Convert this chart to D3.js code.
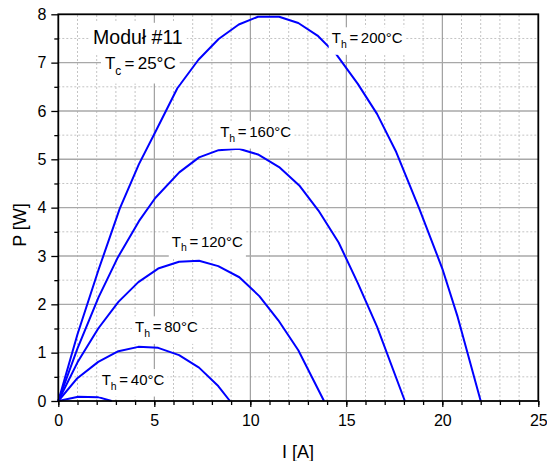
<!DOCTYPE html>
<html>
<head>
<meta charset="utf-8">
<script src="https://cdn.jsdelivr.net/npm/d3@7"></script>
<style>
  body { margin: 0; background: #fff; }
  svg text { font-family: "Liberation Sans", Arial, Helvetica, sans-serif; fill: #000; }
</style>
</head>
<body>
<svg id="chart" width="547" height="461"></svg>
<script>
// measured points, I [A] vs P [W]
var current200 = [0, 1.0, 2.1, 3.2, 4.2, 5.1, 6.2, 7.3, 8.35, 9.4, 10.4, 11.5, 12.5, 13.5, 14.5, 15.6, 16.6, 17.6, 18.8, 20.0, 20.8, 22.0];
var power200   = [0, 1.38, 2.72, 3.98, 4.90, 5.60, 6.47, 7.06, 7.49, 7.79, 7.95, 7.95, 7.82, 7.56, 7.16, 6.56, 5.94, 5.15, 3.98, 2.74, 1.74, 0];
var current160 = [0, 1.0, 2.1, 3.1, 4.2, 5.05, 6.3, 7.33, 8.35, 9.4, 10.4, 11.5, 12.55, 13.55, 14.6, 15.6, 16.6, 18.05];
var power160   = [0, 1.09, 2.15, 2.97, 3.72, 4.20, 4.73, 5.04, 5.19, 5.22, 5.10, 4.84, 4.46, 3.94, 3.28, 2.44, 1.54, 0];
var current120 = [0, 1.0, 2.08, 3.13, 4.17, 5.2, 6.29, 7.33, 8.33, 9.43, 10.47, 11.46, 12.5, 13.84];
var power120   = [0, 0.80, 1.50, 2.05, 2.46, 2.74, 2.88, 2.90, 2.79, 2.56, 2.17, 1.67, 1.05, 0];
var current80  = [0, 0.96, 2.08, 3.13, 4.17, 5.2, 6.29, 7.33, 8.33, 8.94];
var power80    = [0, 0.46, 0.81, 1.03, 1.12, 1.10, 0.95, 0.69, 0.31, 0];
var current40  = [0, 1.04, 2.08, 2.78];
var power40    = [0, 0.09, 0.08, 0];

var hotTemps = ["200", "160", "120", "80", "40"];
var xTicks = [0, 5, 10, 15, 20, 25];
var yTicks = [0, 1, 2, 3, 4, 5, 6, 7, 8];

var svg = d3.select('#chart');
var marginLeft = 58.3, marginTop = 14.3, plotW = 480, plotH = 386.7;

var x = d3.scaleLinear().domain([0, 25]).range([marginLeft, marginLeft + plotW]);
var y = d3.scaleLinear().domain([0, 8]).range([marginTop + plotH, marginTop]);

// GRID
var grid = svg.append("g");
grid.selectAll(".vminor").data(d3.range(1, 25).filter(function(v){ return v % 5 != 0; }))
  .enter().append("line")
  .attr("x1", function(d){ return x(d); }).attr("x2", function(d){ return x(d); })
  .attr("y1", y(0)).attr("y2", y(8))
  .attr("stroke", "#c4c4c4").attr("stroke-width", 1).attr("stroke-dasharray", "2,2");
grid.selectAll(".hminor").data(d3.range(0.5, 8, 1))
  .enter().append("line")
  .attr("y1", function(d){ return y(d); }).attr("y2", function(d){ return y(d); })
  .attr("x1", x(0)).attr("x2", x(25))
  .attr("stroke", "#c4c4c4").attr("stroke-width", 1).attr("stroke-dasharray", "2,2");
grid.selectAll(".vmajor").data([5, 10, 15, 20])
  .enter().append("line")
  .attr("x1", function(d){ return x(d); }).attr("x2", function(d){ return x(d); })
  .attr("y1", y(0)).attr("y2", y(8))
  .attr("stroke", "#8c8c8c").attr("stroke-width", 1);
grid.selectAll(".hmajor").data([1, 2, 3, 4, 5, 6, 7])
  .enter().append("line")
  .attr("y1", function(d){ return y(d); }).attr("y2", function(d){ return y(d); })
  .attr("x1", x(0)).attr("x2", x(25))
  .attr("stroke", "#a8a8a8").attr("stroke-width", 1.4);

// CURVES
var curves = [
  [current200, power200], [current160, power160], [current120, power120],
  [current80, power80], [current40, power40]
];
var line = d3.line().x(function(d){ return x(d[0]); }).y(function(d){ return y(d[1]); });
curves.forEach(function(c) {
  svg.append("path")
    .datum(d3.zip(c[0], c[1]))
    .attr("d", line)
    .attr("fill", "none")
    .attr("stroke", "#0000ff")
    .attr("stroke-width", 2)
    .attr("stroke-linejoin", "round");
});

// LABELS (white box behind, like the original)
function addLabel(px, py, size, main, sub, rest, pad) {
  var g = svg.append("g");
  var bg = g.append("rect").attr("fill", "#fff");
  var t = g.append("text").attr("x", px).attr("y", py).attr("font-size", size)
    .attr("word-spacing", sub ? -1.5 : 0);
  t.append("tspan").text(main);
  if (sub) {
    t.append("tspan").text(sub).attr("font-size", size * 0.7).attr("dy", size * 0.3);
    t.append("tspan").text(rest).attr("dy", -size * 0.3);
  }
  var b = t.node().getBBox();
  bg.attr("x", b.x - pad).attr("y", b.y - pad + 1)
    .attr("width", b.width + 2 * pad).attr("height", b.height + 2 * pad + 1);
}
var labelPos = [[14.24, 7.40], [8.43, 5.46], [5.91, 3.19], [4.0, 1.42], [2.26, 0.33]];
hotTemps.forEach(function(t, i) {
  addLabel(x(labelPos[i][0]), y(labelPos[i][1]), 15, "T", "h", " = " + t + "°C", 3);
});
addLabel(x(1.81), y(7.39), 19.5, "Moduł #11", null, null, 4);
addLabel(x(2.43), y(6.86), 17, "T", "c", " = 25°C", 4);

// AXES
var xAxis = d3.axisBottom(x).tickValues(xTicks).tickSize(6).tickPadding(8).tickFormat(d3.format("d"));
var xMinor = d3.axisBottom(x).tickValues(d3.range(0, 26)).tickSize(4).tickFormat("");
var yAxis = d3.axisLeft(y).tickValues(yTicks).tickSize(7).tickPadding(5).tickFormat(d3.format("d"));
var yMinor = d3.axisLeft(y).tickValues(d3.range(0.5, 8, 1)).tickSize(4).tickFormat("");

[xMinor, xAxis].forEach(function(a) {
  svg.append("g").attr("transform", "translate(0," + y(0) + ")").call(a)
    .call(function(g){ g.select(".domain").remove(); })
    .selectAll("line").attr("stroke", "#000").attr("stroke-width", 1.3);
});
[yMinor, yAxis].forEach(function(a) {
  svg.append("g").attr("transform", "translate(" + x(0) + ",0)").call(a)
    .call(function(g){ g.select(".domain").remove(); })
    .selectAll("line").attr("stroke", "#000").attr("stroke-width", 1.3);
});
svg.selectAll(".tick text").attr("font-size", 16).attr("font-family", "Liberation Sans, Arial, sans-serif");

svg.append("rect")
  .attr("x", x(0)).attr("y", y(8))
  .attr("width", plotW).attr("height", plotH)
  .attr("fill", "none").attr("stroke", "#000").attr("stroke-width", 1.8);

svg.append("text").attr("x", 298).attr("y", 458).attr("text-anchor", "middle")
  .attr("font-size", 18).text("I [A]");
svg.append("text").attr("transform", "translate(26,225) rotate(-90)").attr("text-anchor", "middle")
  .attr("font-size", 18).text("P [W]");
</script>
</body>
</html>
